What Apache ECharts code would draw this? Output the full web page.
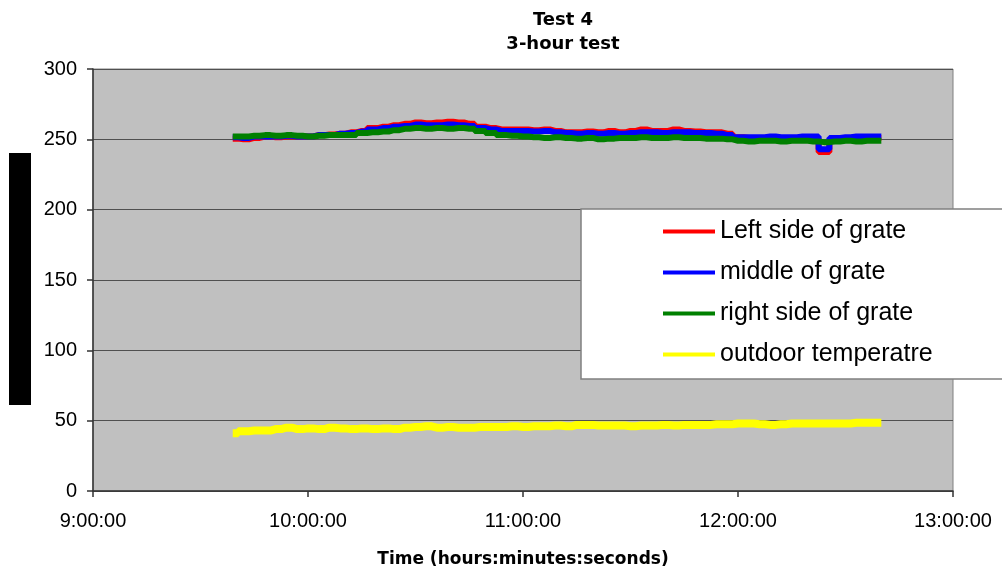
<!DOCTYPE html>
<html>
<head>
<meta charset="utf-8">
<script src="https://cdn.jsdelivr.net/npm/echarts@6/dist/echarts.min.js"></script>
<style>html,body{margin:0;padding:0;background:#fff}#c{width:1002px;height:577px}</style>
</head>
<body>
<div id="c"></div>
<script>
var times = ["9:39","9:42","9:45","9:48","9:51","9:54","9:57","10:00","10:03","10:06",
 "10:09","10:12","10:15","10:18","10:21","10:24","10:27","10:30","10:33","10:36",
 "10:39","10:42","10:45","10:48","10:51","10:54","10:57","11:00","11:03","11:06",
 "11:09","11:12","11:15","11:18","11:21","11:24","11:27","11:30","11:33","11:36",
 "11:39","11:42","11:45","11:48","11:51","11:54","11:57","12:00","12:03","12:06",
 "12:09","12:12","12:15","12:18","12:21","12:24","12:27","12:30","12:33","12:36","12:40"];
var leftSide = [250.5,250,251,252,251.5,252,252,252,253,253.5,
 254,255,256,258,259,260,261,262,261.5,262,
 262.5,262,261,259,258,257,257,257,256.5,257,
 256,255,255,255.5,255,256,255,256,257,256,
 256,257,256,255.5,255,255,254,251.5,251,251,
 251.5,251,251,251,250.5,241,250,251,251.5,251,251];
var middle = [251.5,251,252,252,252,252.5,252,252,253,253,
 254,254.5,255.5,257,258,259,259.5,260.5,260,260,
 260.5,260,259.5,258,257,256,256,256,255.5,256,
 255,254.5,254,254.5,254,254.5,254,254.5,255,255,
 254.5,255,255,254.5,254.5,254,253,251.5,251.5,251.5,
 252,251.5,251.5,252,252,243,251,251.5,252,252,252];
var rightSide = [252,252,252.5,253,252.5,253,252.5,252,252.5,253,
 253,253,254.5,255,255.5,256.5,257.5,258,257.5,258,
 257.5,258,257.5,256,254.5,253,252.5,252,251.5,251,
 251.5,251,250.5,251,250,250.5,251,251,251.5,251,
 251,251.5,251,251,250.5,250.5,250,249,248.5,249,
 249,248.5,249,249,248.5,248,248.5,249,248.5,249,249];
var outdoor = [41,42.5,43,43,44,45,44,44.5,44,45,
 44.5,44,44.5,44,44.5,44,45,45.5,46,45,
 45.5,45,45,45.5,45.5,45.5,46,45.5,46,46,
 46.5,46,47,47,46.5,46.5,46.5,46,46.5,46.5,
 47,46.5,47,47,47,47.5,47.5,48,48,47.5,
 47,47.5,48,48,48,48,48,48,48.5,48.5,48.5];
var seriesNames = ["Left side of grate","middle of grate","right side of grate","outdoor temperatre"];
var xTicks = [9,10,11,12,13];
var yTicks = [0,50,100,150,200,250,300];

function hours(t){var p=t.split(":");return +p[0]+(+p[1])/60;}
function pairs(arr){return arr.map(function(v,i){return [hours(times[i]),v];});}

var chart = echarts.init(document.getElementById('c'));
var colors = ['#FF0000','#0000FF','#008000','#FFFF00'];
var vals = [leftSide,middle,rightSide,outdoor];
var series = vals.map(function(arr,k){
  return {
    name: seriesNames[k], type:'line', data: pairs(arr), showSymbol:false, step:'middle',
    lineStyle:{color:colors[k], width: k===3?8:6}, itemStyle:{color:colors[k]},
    animation:false, z: 2+k
  };
});
chart.setOption({
  animation:false,
  title:{text:"Test 4\n3-hour test", left:558, top:3, textAlign:'center',
    textStyle:{fontFamily:'DejaVu Sans', fontWeight:'bold', fontSize:18, lineHeight:24, color:'#000'}},
  grid:{left:93, right:49, top:69, bottom:86, show:true, backgroundColor:'#C0C0C0', borderColor:'#808080', borderWidth:1},
  xAxis:{type:'value', min:xTicks[0], max:xTicks[xTicks.length-1], interval:1,
    name:'Time (hours:minutes:seconds)', nameLocation:'middle', nameGap:60,
    nameTextStyle:{fontFamily:'DejaVu Sans', fontWeight:'bold', fontSize:17, color:'#000'},
    axisLine:{lineStyle:{color:'#333', width:1.5}},
    axisTick:{show:true, length:6, lineStyle:{color:'#333', width:1.5}},
    axisLabel:{margin:20, fontFamily:'Liberation Sans', fontSize:20, color:'#000',
      formatter:function(v){return v+':00:00';}},
    splitLine:{show:false}},
  yAxis:{type:'value', min:yTicks[0], max:yTicks[yTicks.length-1], interval:50,
    axisLine:{show:true, lineStyle:{color:'#333', width:1.5}},
    axisTick:{show:true, length:6, lineStyle:{color:'#333', width:1.5}},
    axisLabel:{margin:16, fontFamily:'Liberation Sans', fontSize:20, color:'#000'},
    splitLine:{show:true, lineStyle:{color:'#505050', width:1}}},
  legend:{orient:'vertical', left:581, top:209, data:seriesNames,
    backgroundColor:'#fff', borderColor:'#808080', borderWidth:1.5,
    padding:[10,90,12,82], itemGap:16, itemWidth:52, itemHeight:4, icon:'rect',
    textStyle:{fontFamily:'Liberation Sans', fontSize:25, lineHeight:25, color:'#000'}},
  graphic:[{type:'rect', shape:{x:9, y:153, width:22, height:252}, style:{fill:'#000'}, z:100}],
  series: series
});
</script>
</body>
</html>
